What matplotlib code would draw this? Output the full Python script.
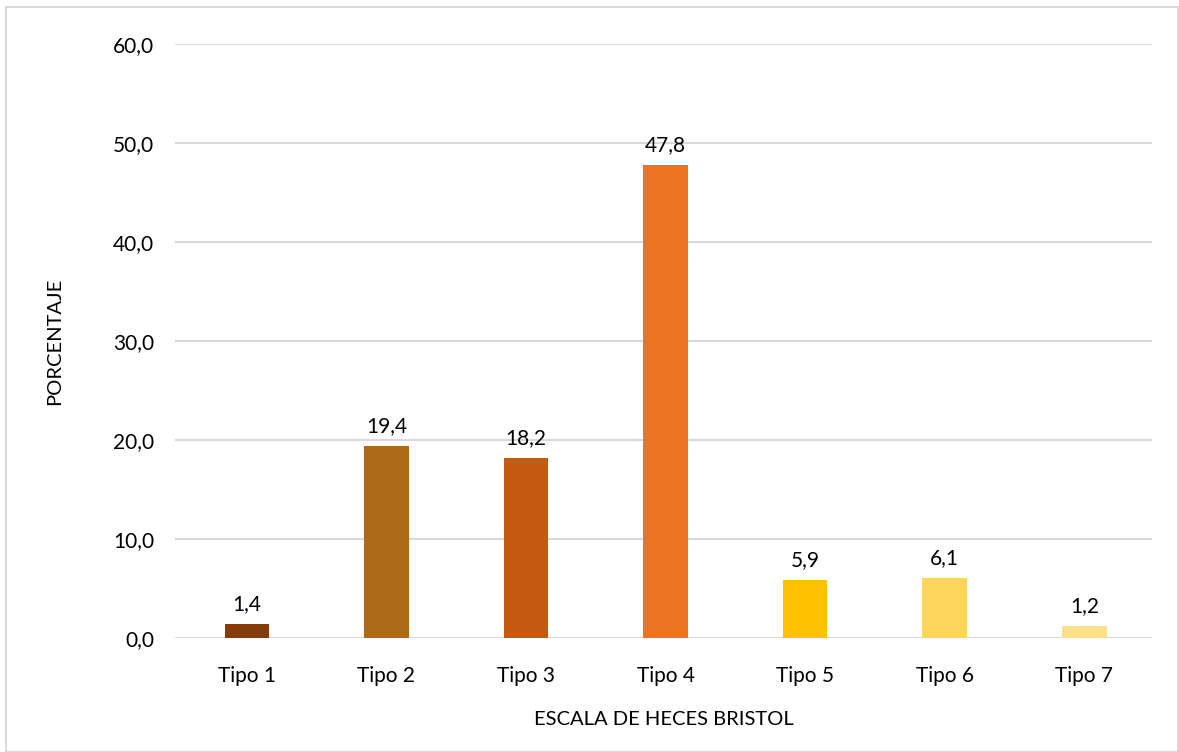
import matplotlib
matplotlib.use("Agg")
import matplotlib.pyplot as plt
from matplotlib.patches import Rectangle

categories = ["Tipo 1", "Tipo 2", "Tipo 3", "Tipo 4", "Tipo 5", "Tipo 6", "Tipo 7"]
values = [1.4, 19.4, 18.2, 47.8, 5.9, 6.1, 1.2]
colors = ["#843C0C", "#AE6A16", "#C55A11", "#EC7322", "#FFC000", "#FFD659", "#FFE08A"]
yticks = [0, 10, 20, 30, 40, 50, 60]

plt.rcParams["font.family"] = ["Lato", "DejaVu Sans"]

fig = plt.figure(figsize=(11.79, 7.52), dpi=100)
fig.patches.append(Rectangle((6 / 1179, 0), 1172 / 1179, 1 - 7 / 752,
                             transform=fig.transFigure, fill=False,
                             edgecolor="#D9D9D9", linewidth=1.5))

ax = fig.add_axes([175 / 1179, 1 - 638 / 752, 977 / 1179, 594 / 752])
x = list(range(len(categories)))
ax.bar(x, values, width=0.32, color=colors, zorder=3)

for xi, v in zip(x, values):
    ax.annotate(f"{v:.1f}".replace(".", ","), (xi, v), xytext=(0, 7),
                textcoords="offset points", ha="center", va="bottom",
                fontsize=15, color="#000000", zorder=4)

ax.set_xlim(-0.515, 6.485)
ax.set_ylim(0, 60)
ax.set_yticks(yticks)
ax.set_yticklabels([f"{t:.1f}".replace(".", ",") for t in yticks], fontsize=15)
ax.set_xticks(x)
ax.set_xticklabels(categories, fontsize=15)
ax.tick_params(axis="both", length=0)
ax.tick_params(axis="y", pad=15)
ax.tick_params(axis="x", pad=20)
ax.yaxis.grid(True, color="#D9D9D9", linewidth=1.5, zorder=0)
for s in ax.spines.values():
    s.set_visible(False)

ax.set_xlabel("ESCALA DE HECES BRISTOL", fontsize=14.5, labelpad=18)
ax.set_ylabel("PORCENTAJE", fontsize=14.5, labelpad=36)

fig.savefig("out.png", dpi=100)
